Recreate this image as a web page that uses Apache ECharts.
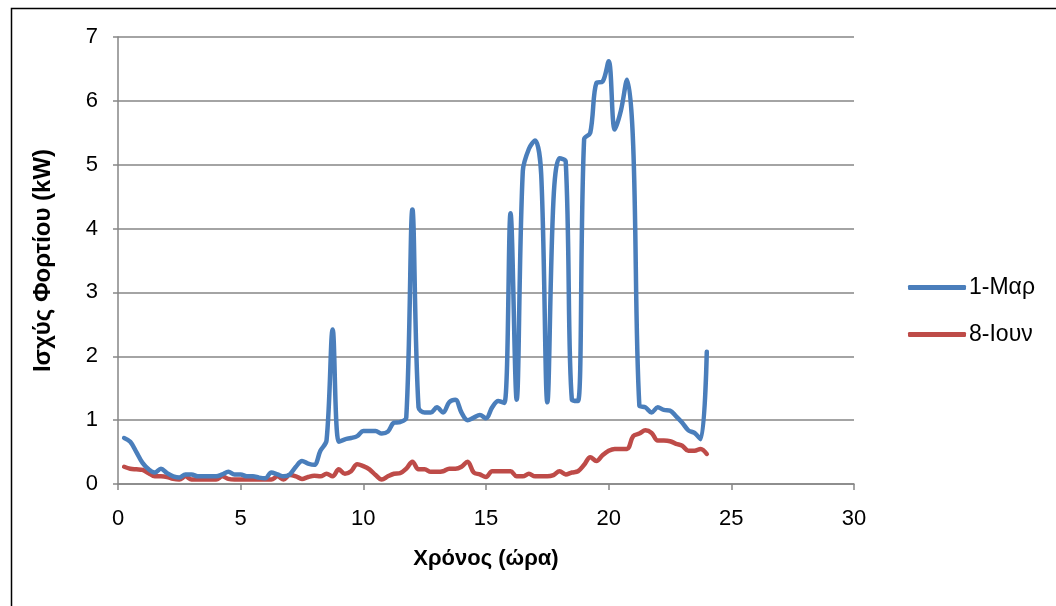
<!DOCTYPE html>
<html>
<head>
<meta charset="utf-8">
<script src="https://cdn.jsdelivr.net/npm/echarts@6/dist/echarts.min.js"></script>
<style>
  html, body { margin: 0; padding: 0; background: #ffffff; }
  #chart { width: 1056px; height: 606px; }
</style>
</head>
<body>
<div id="chart"></div>
<script>
// Time of day (hours), 15-minute steps
const hours = [
  0.25, 0.5, 0.75, 1, 1.25, 1.5, 1.75, 2, 2.25, 2.5, 2.75, 3,
  3.25, 3.5, 3.75, 4, 4.25, 4.5, 4.75, 5, 5.25, 5.5, 5.75, 6,
  6.25, 6.5, 6.75, 7, 7.25, 7.5, 7.75, 8, 8.25, 8.5, 8.75, 9,
  9.25, 9.5, 9.75, 10, 10.25, 10.5, 10.75, 11, 11.25, 11.5, 11.75, 12,
  12.25, 12.5, 12.75, 13, 13.25, 13.5, 13.75, 14, 14.25, 14.5, 14.75, 15,
  15.25, 15.5, 15.75, 16, 16.25, 16.5, 16.75, 17, 17.25, 17.5, 17.75, 18,
  18.25, 18.5, 18.75, 19, 19.25, 19.5, 19.75, 20, 20.25, 20.5, 20.75, 21,
  21.25, 21.5, 21.75, 22, 22.25, 22.5, 22.75, 23, 23.25, 23.5, 23.75, 24
];

// Load power (kW) on 1 March
const loadMar = [
  0.72, 0.66, 0.50, 0.33, 0.23, 0.18, 0.24, 0.17, 0.12, 0.10, 0.15, 0.15,
  0.12, 0.12, 0.12, 0.12, 0.15, 0.19, 0.15, 0.15, 0.12, 0.12, 0.10, 0.09,
  0.18, 0.15, 0.12, 0.15, 0.27, 0.36, 0.32, 0.30, 0.52, 0.68, 2.42, 0.66,
  0.70, 0.72, 0.75, 0.83, 0.83, 0.83, 0.79, 0.82, 0.96, 0.97, 1.04, 4.30,
  1.20, 1.12, 1.12, 1.20, 1.12, 1.28, 1.32, 1.12, 1.00, 1.04, 1.08, 1.03,
  1.20, 1.30, 1.27, 4.24, 1.32, 4.90, 5.25, 5.38, 4.85, 1.28, 4.45, 5.10,
  5.05, 1.32, 1.30, 5.40, 5.50, 6.28, 6.30, 6.62, 5.55, 5.85, 6.33, 5.30,
  1.23, 1.20, 1.12, 1.20, 1.16, 1.15, 1.06, 0.96, 0.84, 0.80, 0.70, 2.07
];

// Load power (kW) on 8 June
const loadJun = [
  0.27, 0.24, 0.23, 0.22, 0.17, 0.12, 0.12, 0.11, 0.08, 0.07, 0.12, 0.07,
  0.07, 0.07, 0.07, 0.07, 0.12, 0.08, 0.07, 0.07, 0.07, 0.07, 0.07, 0.07,
  0.07, 0.12, 0.07, 0.14, 0.12, 0.08, 0.11, 0.13, 0.12, 0.16, 0.12, 0.23,
  0.16, 0.20, 0.31, 0.28, 0.23, 0.14, 0.07, 0.12, 0.16, 0.17, 0.24, 0.35,
  0.23, 0.23, 0.19, 0.19, 0.20, 0.24, 0.24, 0.27, 0.35, 0.18, 0.15, 0.11,
  0.20, 0.20, 0.20, 0.20, 0.12, 0.12, 0.16, 0.12, 0.12, 0.12, 0.14, 0.20,
  0.15, 0.18, 0.20, 0.30, 0.42, 0.36, 0.45, 0.52, 0.55, 0.55, 0.55, 0.75,
  0.79, 0.84, 0.80, 0.68, 0.68, 0.67, 0.63, 0.60, 0.52, 0.52, 0.55, 0.47
];

const seriesNames = ['1-Μαρ', '8-Ιουν'];
const xTitle = 'Χρόνος (ώρα)';
const yTitle = 'Ισχύς Φορτίου (kW)';

const font = 'Liberation Sans, Arial, sans-serif';
const gridGray = '#868686';

const chart = echarts.init(document.getElementById('chart'), null, { renderer: 'canvas' });

chart.setOption({
  backgroundColor: '#ffffff',
  animation: false,
  graphic: [{
    type: 'rect',
    left: 9, top: 6,
    shape: { width: 1200, height: 700 },
    style: { fill: 'none', stroke: '#000000', lineWidth: 1.5 },
    silent: true
  }],
  grid: { left: 118, top: 37, width: 736, height: 447 },
  legend: {
    orient: 'vertical',
    left: 903, top: 271,
    itemWidth: 58, itemHeight: 5,
    itemGap: 24,
    icon: 'roundRect',
    textStyle: { fontFamily: font, fontSize: 23, color: '#000000', padding: [0, 0, 0, -2] },
    data: seriesNames
  },
  xAxis: {
    type: 'value',
    min: 0, max: 30, interval: 5,
    name: xTitle,
    nameLocation: 'middle',
    nameGap: 64,
    nameTextStyle: { fontFamily: font, fontSize: 22, fontWeight: 'bold', color: '#000000' },
    axisLine: { show: true, onZero: false, lineStyle: { color: gridGray, width: 1.5 } },
    axisTick: { show: true, length: 6, lineStyle: { color: gridGray, width: 1.5 } },
    axisLabel: { fontFamily: font, fontSize: 22, color: '#000000', margin: 24 },
    splitLine: { show: false }
  },
  yAxis: {
    type: 'value',
    min: 0, max: 7, interval: 1,
    name: yTitle,
    nameLocation: 'middle',
    nameGap: 63,
    nameTextStyle: { fontFamily: font, fontSize: 24, fontWeight: 'bold', color: '#000000' },
    axisLine: { show: true, lineStyle: { color: gridGray, width: 1.5 } },
    axisTick: { show: true, length: 5, lineStyle: { color: gridGray, width: 1.5 } },
    axisLabel: { fontFamily: font, fontSize: 22, color: '#000000', margin: 20 },
    splitLine: { show: true, lineStyle: { color: gridGray, width: 1.5 } }
  },
  series: [
    {
      name: seriesNames[0],
      type: 'line',
      data: hours.map((h, i) => [h, loadMar[i]]),
      smooth: 0.35,
      symbol: 'none',
      color: '#4a7ebb',
      lineStyle: { color: '#4a7ebb', width: 4.5, cap: 'round', join: 'round' },
      z: 3
    },
    {
      name: seriesNames[1],
      type: 'line',
      data: hours.map((h, i) => [h, loadJun[i]]),
      smooth: 0.35,
      symbol: 'none',
      color: '#be4b48',
      lineStyle: { color: '#be4b48', width: 4.5, cap: 'round', join: 'round' },
      z: 2
    }
  ]
});
</script>
</body>
</html>
